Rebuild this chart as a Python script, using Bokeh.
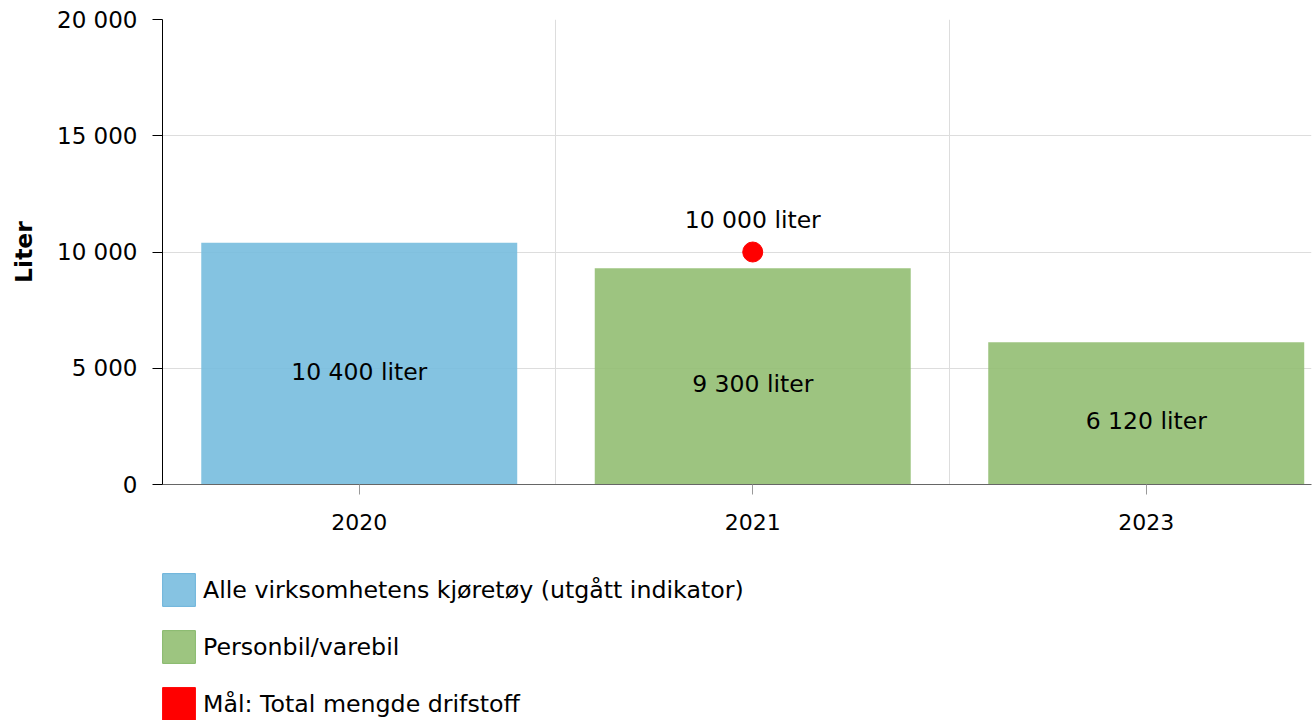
from bokeh.plotting import figure
from bokeh.layouts import column
from bokeh.models import (ColumnDataSource, FixedTicker, LabelSet, Legend, LegendItem, Range1d)
from bokeh.core.properties import value
from bokeh.embed import file_html
from bokeh.resources import INLINE

# ---- data ----
categories = ["2020", "2021", "2023"]
alle_kjoretoy = [10400, None, None]          # Alle virksomhetens kjøretøy (utgått indikator)
personbil_varebil = [None, 9300, 6120]       # Personbil/varebil
maal_drifstoff = [None, 10000, None]         # Mål: Total mengde drifstoff
y_ticks = [0, 5000, 10000, 15000, 20000]
y_tick_labels = ["0", "5 000", "10 000", "15 000", "20 000"]
series_names = ["Alle virksomhetens kjøretøy (utgått indikator)",
                "Personbil/varebil",
                "Mål: Total mengde drifstoff"]

FONT = "DejaVu Sans"
FS_TXT = "23.5px"
FS_LEG = "23.7px"
FS_X = "22px"
FS_Y = "23px"
BLUE = "#77BCDE"
GREEN = "#92BE72"
RED = "#FF0000"
NAN = float("nan")


def fmt(v):
    return f"{v:,}".replace(",", " ") + " liter"


def series_source(vals):
    xs, ys, half, labels = [], [], [], []
    for i, v in enumerate(vals):
        if v is not None:
            xs.append(i)
            ys.append(v)
            half.append(v / 2)
            labels.append(fmt(v))
    return ColumnDataSource(dict(x=xs, y=ys, half=half, label=labels))


p = figure(width=1315, height=560, output_backend="svg", toolbar_location=None,
           x_range=Range1d(-0.5, 2.42), y_range=Range1d(0, 20000),
           min_border_left=162, min_border_top=19, min_border_right=4,
           min_border_bottom=76)
p.outline_line_color = None
p.background_fill_color = "white"

src_a = series_source(alle_kjoretoy)
src_p = series_source(personbil_varebil)
src_m = series_source(maal_drifstoff)

p.vbar(x="x", top="y", width=0.803, source=src_a, fill_color=BLUE, fill_alpha=0.9, line_color=None)
p.vbar(x="x", top="y", width=0.803, source=src_p, fill_color=GREEN, fill_alpha=0.9, line_color=None)
p.scatter(x="x", y="y", size=20, source=src_m, fill_color=RED, line_color=RED, marker="circle")

for src in (src_a, src_p):
    p.add_layout(LabelSet(x="x", y="half", text="label", source=src, y_offset=-8,
                          text_align="center", text_baseline="middle",
                          text_font=value(FONT), text_font_size=value(FS_TXT), text_color="black"))
p.add_layout(LabelSet(x="x", y="y", text="label", source=src_m, y_offset=32,
                      text_align="center", text_baseline="middle",
                      text_font=value(FONT), text_font_size=value(FS_TXT), text_color="black"))

# axes
p.yaxis.ticker = FixedTicker(ticks=y_ticks)
p.yaxis.major_label_overrides = {t: l for t, l in zip(y_ticks, y_tick_labels)}
p.yaxis.axis_label = "Liter"
p.yaxis.axis_label_text_font = FONT
p.yaxis.axis_label_text_font_size = "23.5px"
p.yaxis.axis_label_text_font_style = "bold"
p.yaxis.axis_label_text_color = "black"
p.yaxis.axis_label_standoff = 16
p.yaxis.major_label_text_font = FONT
p.yaxis.major_label_text_font_size = FS_Y
p.yaxis.major_label_text_color = "black"
p.yaxis.major_label_standoff = 15
p.yaxis.axis_line_color = "black"
p.yaxis.major_tick_line_color = "black"
p.yaxis.major_tick_out = 10
p.yaxis.major_tick_in = 0
p.yaxis.minor_tick_line_color = None

p.xaxis.ticker = FixedTicker(ticks=list(range(len(categories))))
p.xaxis.major_label_overrides = {i: c for i, c in enumerate(categories)}
p.xaxis.major_label_text_font = FONT
p.xaxis.major_label_text_font_size = FS_X
p.xaxis.major_label_text_color = "black"
p.xaxis.major_label_standoff = 19
p.xaxis.axis_line_color = "#666666"
p.xaxis.major_tick_line_color = "#999999"
p.xaxis.major_tick_out = 10
p.xaxis.major_tick_in = 0
p.xaxis.minor_tick_line_color = None

p.ygrid.grid_line_color = "#dddddd"
p.xgrid.ticker = FixedTicker(ticks=[0.5, 1.5])
p.xgrid.grid_line_color = "#dddddd"

# ---- legend strip below the chart (frame aligned with the chart frame) ----
lg = figure(width=1315, height=160, output_backend="svg", toolbar_location=None,
            x_range=Range1d(0, 1), y_range=Range1d(0, 1),
            x_axis_location=None, y_axis_location=None,
            min_border=0, min_border_left=0, min_border_right=0,
            min_border_top=0, min_border_bottom=0)
lg.outline_line_color = None
lg.grid.visible = False

# legend swatches (NaN geometry: nothing drawn, only the legend swatch)
leg_a = lg.quad(left=[NAN], right=[NAN], top=[NAN], bottom=[NAN], fill_color="#86C3E2", line_color="#6CB3DA")
leg_p = lg.quad(left=[NAN], right=[NAN], top=[NAN], bottom=[NAN], fill_color="#9DC580", line_color="#86B86A")
leg_m = lg.quad(left=[NAN], right=[NAN], top=[NAN], bottom=[NAN], fill_color=RED, line_color=RED)

legend = Legend(items=[LegendItem(label=series_names[0], renderers=[leg_a]),
                       LegendItem(label=series_names[1], renderers=[leg_p]),
                       LegendItem(label=series_names[2], renderers=[leg_m])],
                location=(-4, -4), orientation="vertical",
                glyph_width=41, glyph_height=41, label_height=41, label_standoff=4,
                spacing=16, padding=0, margin=0,
                border_line_color=None, background_fill_alpha=0,
                label_text_font=FONT, label_text_font_size=FS_LEG, label_text_color="black")
lg.add_layout(legend)

layout = column(p, lg, spacing=0)
open("out.html", "w").write(file_html(layout, INLINE))
